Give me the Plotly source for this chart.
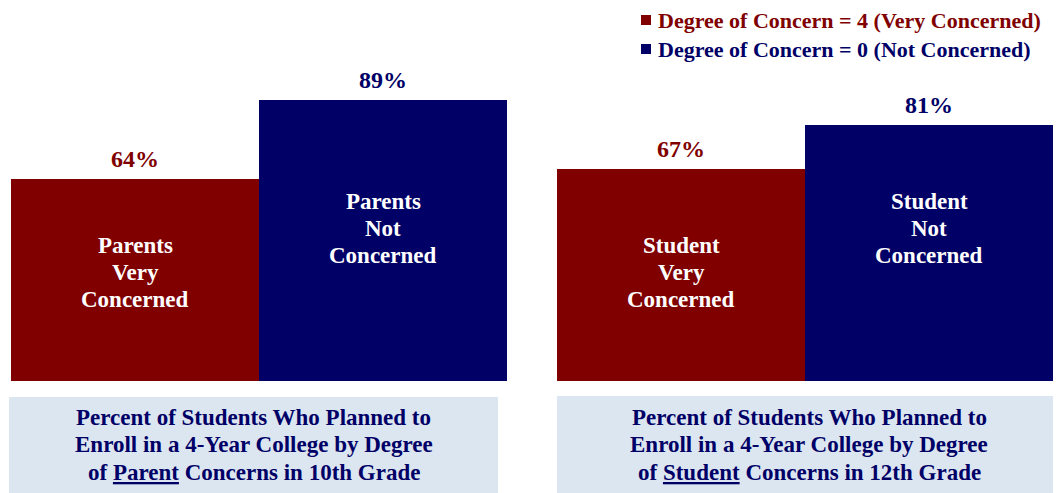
import plotly.graph_objects as go

categories = ["Very Concerned", "Not Concerned"]
parent_values = [64, 89]
student_values = [67, 81]
series_names = ["Degree of Concern = 4 (Very Concerned)", "Degree of Concern = 0 (Not Concerned)"]
parent_inner = [["Parents", "Very", "Concerned"], ["Parents", "Not", "Concerned"]]
student_inner = [["Student", "Very", "Concerned"], ["Student", "Not", "Concerned"]]
box_texts = [
    ["Percent of Students Who Planned to", "Enroll in a 4-Year College by Degree",
     "of <u>Parent</u> Concerns in 10th Grade"],
    ["Percent of Students Who Planned to", "Enroll in a 4-Year College by Degree",
     "of <u>Student</u> Concerns in 12th Grade"],
]

RED = "#800000"
NAVY = "#000066"
FONT = "Liberation Serif"
W, H = 1061, 493
OFF = 8  # page body offset
BASE = 381 - OFF  # pixel of baseline in figure coords
PXPCT = 3.16


def px(v):
    return (v - OFF) / W


def py(v):
    return 1 - (v - OFF) / H


fig = go.Figure()
for vals, ax in [(parent_values, "x"), (student_values, "x2")]:
    fig.add_trace(go.Bar(
        x=categories, y=vals, xaxis=ax, yaxis="y",
        marker=dict(color=[RED, NAVY], line=dict(width=0)),
        width=1, showlegend=False, hoverinfo="skip",
    ))

fig.update_layout(
    width=W, height=H,
    margin=dict(l=0, r=0, t=0, b=0),
    paper_bgcolor="white", plot_bgcolor="white",
    bargap=0,
    xaxis=dict(domain=[px(11), px(507)], visible=False, range=[-0.5, 1.5]),
    xaxis2=dict(domain=[px(557), px(1053)], visible=False, range=[-0.5, 1.5]),
    yaxis=dict(domain=[(H - BASE) / H, 1], visible=False, range=[0, BASE / PXPCT]),
)

ann = []
shapes = []
inner_y = [34.3, 48.4]
LINE = 27
for vals, inner, ax in [(parent_values, parent_inner, "x"), (student_values, student_inner, "x2")]:
    for j, (c, v) in enumerate(zip(categories, vals)):
        col = [RED, NAVY][j]
        ann.append(dict(x=c, y=v, xref=ax, yref="y", text=f"<b>{v}%</b>", showarrow=False,
                        xanchor="center", yanchor="middle", yshift=20,
                        font=dict(family=FONT, size=24, color=col)))
        for k, line in enumerate(inner[j]):
            ann.append(dict(x=c, y=inner_y[j], xref=ax, yref="y", text=f"<b>{line}</b>",
                            showarrow=False, xanchor="center", yanchor="middle",
                            yshift=(1 - k) * LINE,
                            font=dict(family=FONT, size=23, color="white")))

# bottom boxes
for (x0, x1, y0), lines in zip([(9, 498, 397), (557, 1061, 396)], box_texts):
    shapes.append(dict(type="rect", xref="paper", yref="paper",
                       x0=px(x0), x1=px(x1), y0=py(493), y1=py(y0),
                       fillcolor="#DCE6F1", line=dict(width=0), layer="below"))
    for k, line in enumerate(lines):
        ann.append(dict(x=px((x0 + x1) / 2), y=py(417 + 27.5 * k), xref="paper", yref="paper",
                        xanchor="center", yanchor="middle",
                        text=f"<b>{line}</b>", showarrow=False,
                        font=dict(family=FONT, size=23, color=NAVY)))

# legend
for name, col, yc in zip(series_names, [RED, NAVY], [20, 49]):
    shapes.append(dict(type="rect", xref="paper", yref="paper",
                       x0=px(641), x1=px(651), y0=py(yc + 5), y1=py(yc - 5),
                       fillcolor=col, line=dict(width=0)))
    ann.append(dict(x=px(656), y=py(yc + 0.5), xref="paper", yref="paper",
                    xanchor="left", yanchor="middle",
                    text=f"<b>{name}</b>", showarrow=False,
                    font=dict(family=FONT, size=22, color=col)))

fig.update_layout(annotations=ann, shapes=shapes)
fig.write_html("out.html")
